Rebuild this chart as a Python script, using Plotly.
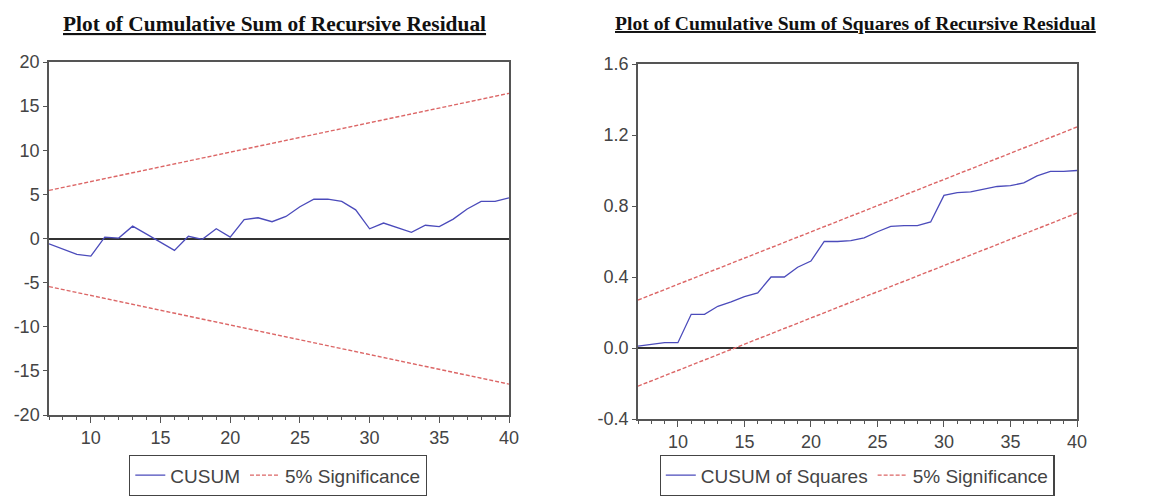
import plotly.graph_objects as go

# ---- data ----
obs = list(range(7, 41))
cusum = [-0.6, -1.2, -1.8, -2.0, 0.15, 0.05, 1.4, 0.5, -0.4, -1.35,
         0.25, -0.1, 1.1, 0.15, 2.15, 2.35, 1.9, 2.5, 3.6, 4.45,
         4.45, 4.2, 3.25, 1.1, 1.75, 1.25, 0.7, 1.5, 1.35, 2.2,
         3.35, 4.2, 4.2, 4.6]
cusum_bound_x = [7, 40]
cusum_upper = [5.45, 16.45]
cusum_lower = [-5.45, -16.5]

cusumsq = [0.01, 0.02, 0.03, 0.03, 0.19, 0.19, 0.235, 0.26, 0.29, 0.31,
           0.40, 0.40, 0.455, 0.49, 0.60, 0.60, 0.605, 0.62, 0.655, 0.685,
           0.69, 0.69, 0.71, 0.86, 0.875, 0.88, 0.895, 0.91, 0.915, 0.93,
           0.97, 0.995, 0.995, 1.0]
sq_bound_x = [7, 40]
sq_upper = [0.27, 1.245]
sq_lower = [-0.215, 0.76]

cusum_yticks = [-20, -15, -10, -5, 0, 5, 10, 15, 20]
cusum_yticklabels = ["-20", "-15", "-10", "-5", "0", "5", "10", "15", "20"]
sq_yticks = [-0.4, 0.0, 0.4, 0.8, 1.2, 1.6]
sq_yticklabels = ["-0.4", "0.0", "0.4", "0.8", "1.2", "1.6"]

title_left = "Plot of Cumulative Sum of Recursive Residual"
title_right = "Plot of Cumulative Sum of Squares of Recursive Residual"

BLUE = "#4b4bbb"
RED = "#dc6666"
AX = "#555555"
TXT = "#444444"
DASH = "4px,2px"

fig = go.Figure()
fig.add_trace(go.Scatter(x=obs, y=cusum, mode="lines", name="CUSUM",
                         line=dict(color=BLUE, width=1.3), xaxis="x", yaxis="y",
                         legend="legend"))
fig.add_trace(go.Scatter(x=cusum_bound_x, y=cusum_upper, mode="lines", name="5% Significance",
                         line=dict(color=RED, width=1.4, dash=DASH), xaxis="x", yaxis="y",
                         legend="legend"))
fig.add_trace(go.Scatter(x=cusum_bound_x, y=cusum_lower, mode="lines", name="5% Significance",
                         line=dict(color=RED, width=1.4, dash=DASH), xaxis="x", yaxis="y",
                         showlegend=False))
fig.add_trace(go.Scatter(x=obs, y=cusumsq, mode="lines", name="CUSUM of Squares",
                         line=dict(color=BLUE, width=1.3), xaxis="x2", yaxis="y2",
                         legend="legend2"))
fig.add_trace(go.Scatter(x=sq_bound_x, y=sq_upper, mode="lines", name="5% Significance",
                         line=dict(color=RED, width=1.4, dash=DASH), xaxis="x2", yaxis="y2",
                         legend="legend2"))
fig.add_trace(go.Scatter(x=sq_bound_x, y=sq_lower, mode="lines", name="5% Significance",
                         line=dict(color=RED, width=1.4, dash=DASH), xaxis="x2", yaxis="y2",
                         showlegend=False, legend="legend2"))

# page is 1175x497; the html body has an 8px margin, so the figure is offset by 8px
OFF = 8
W, H = 1175 - OFF, 497 - OFF

def px_x(v):
    return (v - OFF) / W

def px_y(v):
    return (H - (v - OFF)) / H

def xaxis(domain, anchor):
    return dict(domain=domain, anchor=anchor, range=[7, 40], tick0=0, dtick=5,
                showline=True, mirror=True, linecolor=AX, linewidth=1.5,
                ticks="outside", ticklen=6, tickcolor=AX, tickwidth=1.2,
                minor=dict(dtick=1, tick0=0, ticks="outside", ticklen=3, tickcolor=AX, showgrid=False),
                showgrid=False, zeroline=False,
                tickfont=dict(family="Liberation Sans, Arial", size=18, color=TXT))

def yaxis(domain, anchor, rng, vals, labels):
    return dict(domain=domain, anchor=anchor, range=rng, tickmode="array",
                tickvals=vals, ticktext=labels,
                showline=True, mirror=True, linecolor=AX, linewidth=1.5,
                ticks="outside", ticklen=4, tickcolor=AX, tickwidth=1.2,
                showgrid=False, zeroline=True, zerolinecolor="#333333", zerolinewidth=1.5,
                tickfont=dict(family="Liberation Sans, Arial", size=18, color=TXT))

legend_common = dict(orientation="h", xanchor="center", yanchor="bottom", y=1.0 / H,
                     bordercolor="#444444", borderwidth=1.3, bgcolor="white",
                     font=dict(family="Liberation Sans, Arial", size=19, color=TXT),
                     itemwidth=30, tracegroupgap=0)

fig.update_layout(
    width=W, height=H, autosize=False,
    margin=dict(l=0, r=0, t=0, b=0, autoexpand=False),
    paper_bgcolor="white", plot_bgcolor="white",
    xaxis=xaxis([px_x(49), px_x(509)], "y"),
    yaxis=yaxis([px_y(415), px_y(62)], "x", [-20, 20], cusum_yticks, cusum_yticklabels),
    xaxis2=xaxis([px_x(638), px_x(1077)], "y2"),
    yaxis2=yaxis([px_y(419), px_y(64)], "x2", [-0.4, 1.6], sq_yticks, sq_yticklabels),
    legend=dict(x=px_x(278), **legend_common),
    legend2=dict(x=px_x(857), **legend_common),
    annotations=[
        dict(text="<u>" + title_left + "</u>", x=px_x(274), y=px_y(24), xref="paper", yref="paper",
             xanchor="center", yanchor="middle", showarrow=False,
             font=dict(family="Liberation Serif, Times New Roman", size=21.4, color="#111111", weight="bold")),
        dict(text="<u>" + title_right + "</u>", x=px_x(855), y=px_y(24), xref="paper", yref="paper",
             xanchor="center", yanchor="middle", showarrow=False,
             font=dict(family="Liberation Serif, Times New Roman", size=19.6, color="#111111", weight="bold")),
    ],
)

fig.write_html("out.html")
